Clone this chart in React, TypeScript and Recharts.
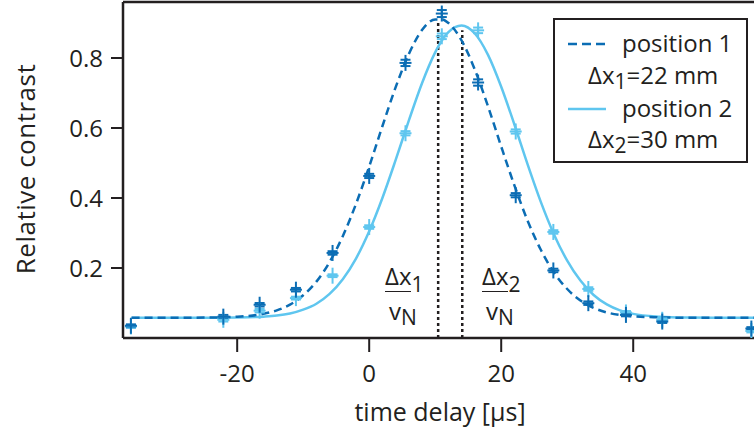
import { ComposedChart, Line, Scatter, ErrorBar, XAxis, YAxis, ReferenceLine } from 'recharts'

const INK = '#231f20'
const DARK = '#0b6db4'
const LIGHT = '#5fc6ef'
const FONT = '"Open Sans", "DejaVu Sans", sans-serif'

// fitted curves
const fitX = [-36, -30, -24, -20, -16, -14, -12, -10, -8, -6, -4, -2, 0, 2, 4, 6, 8, 10, 11, 12, 14, 16, 18, 20, 22, 24, 26, 28, 30, 32, 34, 36, 38, 40, 44, 48, 52, 58.3]
const fit1 = [0.058, 0.058, 0.0585, 0.061, 0.069, 0.079, 0.0955, 0.122, 0.161, 0.217, 0.291, 0.383, 0.49, 0.605, 0.716, 0.811, 0.88, 0.91, 0.91, 0.9, 0.85, 0.767, 0.662, 0.547, 0.436, 0.335, 0.252, 0.187, 0.14, 0.107, 0.086, 0.073, 0.066, 0.062, 0.059, 0.058, 0.058, 0.058]
const fit2 = [0.058, 0.058, 0.058, 0.0586, 0.061, 0.064, 0.07, 0.081, 0.098, 0.126, 0.168, 0.227, 0.305, 0.4, 0.508, 0.621, 0.728, 0.816, 0.85, 0.874, 0.893, 0.87, 0.809, 0.718, 0.61, 0.496, 0.389, 0.296, 0.221, 0.164, 0.123, 0.096, 0.079, 0.069, 0.061, 0.0585, 0.058, 0.058]

// measured points
const ptX = [-36.1, -22.1, -16.6, -11.1, -5.55, 0, 5.5, 11, 16.5, 22.2, 27.9, 33.2, 38.9, 44.4, 57.9]
const pos1 = [0.035, 0.061, 0.095, 0.138, 0.243, 0.463, 0.786, 0.927, 0.73, 0.408, 0.193, 0.0995, 0.066, 0.047, 0.027]
const pos2 = [0.033, 0.052, 0.078, 0.114, 0.178, 0.317, 0.585, 0.862, 0.879, 0.59, 0.303, 0.14, 0.073, 0.052, 0.02]
const err1 = [0.004, 0.005, 0.005, 0.005, 0.005, 0.006, 0.009, 0.01, 0.009, 0.006, 0.005, 0.005, 0.004, 0.004, 0.004]
const err2 = [0.004, 0.005, 0.005, 0.004, 0.004, 0.005, 0.006, 0.008, 0.008, 0.006, 0.005, 0.005, 0.004, 0.004, 0.004]

// delay markers dx/vN
const delays = [
  { x: 10.45, top: 0.907 },
  { x: 14.1, top: 0.879 },
]

const curve1 = fitX.map((x, i) => ({ x, y: fit1[i] }))
const curve2 = fitX.map((x, i) => ({ x, y: fit2[i] }))
const points1 = ptX.map((x, i) => ({ x, y: pos1[i], err: err1[i] }))
const points2 = ptX.map((x, i) => ({ x, y: pos2[i], err: err2[i] }))

const plus = (color: string) => (props: any) => {
  const { cx, cy } = props
  return (
    <g stroke={color} strokeWidth={2}>
      <line x1={cx - 6} x2={cx + 6} y1={cy} y2={cy} />
      <line x1={cx} x2={cx} y1={cy - 8} y2={cy + 8} />
    </g>
  )
}

const txt = { position: 'absolute' as const, fontFamily: FONT, color: INK, whiteSpace: 'nowrap' as const, lineHeight: 1 }

function Frac({ left, top, n }: { left: number; top: number; n: string }) {
  return (
    <div style={{ ...txt, left, top, fontSize: 24 }}>
      <div style={{ display: 'flex', alignItems: 'flex-end', height: 26 }}>
        <span style={{ borderBottom: `1.5px solid ${INK}`, paddingBottom: 3 }}>Δx</span>
        <span style={{ fontSize: 21, position: 'relative', top: 3 }}>{n}</span>
      </div>
      <div style={{ marginTop: 7, paddingLeft: 4, height: 22 }}>
        v<span style={{ fontSize: 21, position: 'relative', top: 5 }}>N</span>
      </div>
    </div>
  )
}

export default function App() {
  return (
    <div style={{ position: 'absolute', left: 0, top: 0, width: 754, height: 430, background: '#fff' }}>
      <ComposedChart width={754} height={430} margin={{ top: 2, right: 0, bottom: 32, left: 0 }}>
        <XAxis
          type="number"
          dataKey="x"
          domain={[-37.3, 58.3]}
          ticks={[-20, 0, 20, 40]}
          allowDataOverflow
          height={60}
          tickSize={14}
          tickMargin={13}
          axisLine={{ stroke: INK, strokeWidth: 2.5 }}
          tickLine={{ stroke: INK, strokeWidth: 2 }}
          tick={{ fill: INK, fontSize: 24, fontFamily: FONT }}
        />
        <YAxis
          type="number"
          domain={[0, 0.96]}
          ticks={[0.2, 0.4, 0.6, 0.8]}
          allowDataOverflow
          width={123}
          tickSize={12}
          tickMargin={8}
          tickFormatter={(v: number) => v.toFixed(1)}
          axisLine={{ stroke: INK, strokeWidth: 2.5 }}
          tickLine={{ stroke: INK, strokeWidth: 2 }}
          tick={{ fill: INK, fontSize: 24, fontFamily: FONT }}
        />
        <ReferenceLine y={0.96} stroke={INK} strokeWidth={2.5} ifOverflow="extendDomain" />
        {delays.map((d) => (
          <ReferenceLine
            key={d.x}
            segment={[{ x: d.x, y: 0 }, { x: d.x, y: d.top }]}
            stroke={INK}
            strokeWidth={2.5}
            strokeDasharray="3 3"
          />
        ))}
        <Line data={curve2} dataKey="y" type="monotone" stroke={LIGHT} strokeWidth={2.5} dot={false} isAnimationActive={false} />
        <Line data={curve1} dataKey="y" type="monotone" stroke={DARK} strokeWidth={2.5} strokeDasharray="8 5" dot={false} isAnimationActive={false} />
        <Scatter data={points2} dataKey="y" shape={plus(LIGHT)} isAnimationActive={false}>
          <ErrorBar dataKey="err" direction="y" width={5} stroke={LIGHT} strokeWidth={2} />
        </Scatter>
        <Scatter data={points1} dataKey="y" shape={plus(DARK)} isAnimationActive={false}>
          <ErrorBar dataKey="err" direction="y" width={5} stroke={DARK} strokeWidth={2} />
        </Scatter>
      </ComposedChart>

      <div style={{ ...txt, fontSize: 26, letterSpacing: 0.5, left: 25, top: 169, transform: 'translate(-50%, -50%) rotate(-90deg)' }}>Relative contrast</div>
      <div style={{ ...txt, fontSize: 25, left: 440, top: 411, transform: 'translate(-50%, -50%)' }}>time delay [µs]</div>

      <Frac left={385} top={266} n="1" />
      <Frac left={482} top={266} n="2" />

      <div style={{ position: 'absolute', left: 553, top: 18, width: 191, height: 141, border: `2px solid ${INK}`, background: '#fff' }}>
        <svg style={{ position: 'absolute', left: 12, top: 22 }} width={40} height={70}>
          <line x1={1} x2={39} y1={2} y2={2} stroke={DARK} strokeWidth={2.5} strokeDasharray="9 5" />
          <line x1={1} x2={39} y1={67} y2={67} stroke={LIGHT} strokeWidth={2.5} />
        </svg>
        <div style={{ ...txt, fontSize: 24, left: 67, top: 11 }}>position 1</div>
        <div style={{ ...txt, fontSize: 24, left: 33, top: 43 }}>
          Δx<span style={{ fontSize: 21, position: 'relative', top: 5 }}>1</span>=22 mm
        </div>
        <div style={{ ...txt, fontSize: 24, left: 67, top: 76 }}>position 2</div>
        <div style={{ ...txt, fontSize: 24, left: 33, top: 107 }}>
          Δx<span style={{ fontSize: 21, position: 'relative', top: 5 }}>2</span>=30 mm
        </div>
      </div>
    </div>
  )
}
